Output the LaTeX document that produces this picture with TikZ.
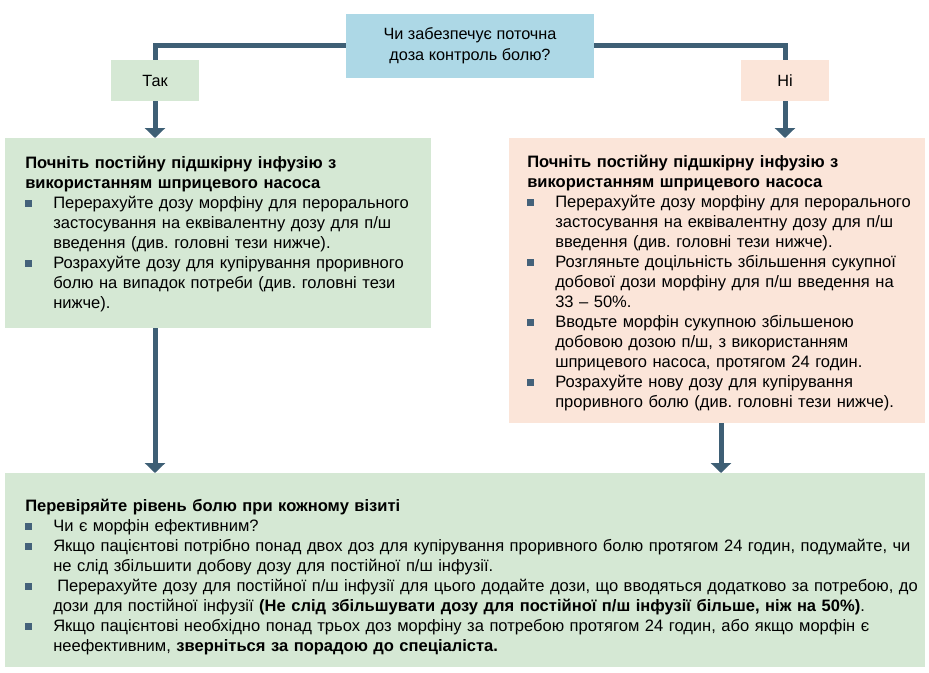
\documentclass[tikz,border=0pt]{standalone}
\usepackage{fontspec}
\setmainfont{Liberation Sans}
\usetikzlibrary{arrows.meta}
\frenchspacing

\definecolor{flowc}{RGB}{62,95,117}
\definecolor{qblue}{RGB}{173,216,230}
\definecolor{yesg}{RGB}{213,232,212}
\definecolor{nopeach}{RGB}{251,229,217}
\definecolor{bulc}{RGB}{68,98,122}

\pgfdeclarelayer{bg}
\pgfsetlayers{bg,main}

% square bullet with hanging indent
\newcommand\sqbul{\textcolor{bulc}{\rule[0.9pt]{5.2pt}{5.2pt}}}
\newcommand\bitem[1]{\par\noindent\hangindent=21pt\hangafter=1\makebox[21pt][l]{\sqbul}#1}

\tikzset{
  box/.style={rectangle, inner sep=0pt, outer sep=0pt},
  body/.style={anchor=base west, inner sep=0pt, align=left,
    font=\fontsize{12.4pt}{15pt}\selectfont},
  flow/.style={draw=flowc, line width=3.75pt,
    -{Triangle[width=15pt,length=7.5pt]}},
}

\begin{document}
\begin{tikzpicture}[x=0.75pt, y=-0.75pt]
\useasboundingbox (0,0) rectangle (929,672);

% boxes
\node[box, fill=qblue, minimum width=186pt, minimum height=48pt,
      align=center, font=\fontsize{12.2pt}{15.75pt}\selectfont] (q) at (470,45.5)
      {Чи забезпечує поточна\\доза контроль болю?};
\node[box, fill=yesg, minimum width=66pt, minimum height=30.75pt,
      font=\fontsize{12.2pt}{15pt}\selectfont] (tak) at (155,80.5) {Так};
\node[box, fill=nopeach, minimum width=66pt, minimum height=30.75pt,
      font=\fontsize{12.2pt}{15pt}\selectfont] (ni) at (785,80.5) {Ні};
\node[box, fill=yesg, minimum width=319.5pt, minimum height=142.5pt] (lbox) at (218,233) {};
\node[box, fill=nopeach, minimum width=312pt, minimum height=213.75pt] (rbox) at (717,280.5) {};
\node[box, fill=yesg, minimum width=690pt, minimum height=145.5pt] (bot) at (465,570) {};

% texts
\node[body, text width=310pt] (ltext) at (25,168) {%
\textbf{Почніть постійну підшкірну інфузію з\newline використанням шприцевого насоса}
\bitem{Перерахуйте дозу морфіну для перорального\newline застосування на еквівалентну дозу для п/ш\newline введення (див. головні тези нижче).}
\bitem{Розрахуйте дозу для купірування проривного\newline болю на випадок потреби (див. головні тези\newline нижче).}\par};

\node[body, text width=300pt] (rtext) at (527,167) {%
\textbf{Почніть постійну підшкірну інфузію з\newline використанням шприцевого насоса}
\bitem{Перерахуйте дозу морфіну для перорального\newline застосування на еквівалентну дозу для п/ш\newline введення (див. головні тези нижче).}
\bitem{Розгляньте доцільність збільшення сукупної\newline добової дози морфіну для п/ш введення на\newline 33 – 50\%.}
\bitem{Вводьте морфін сукупною збільшеною\newline добовою дозою п/ш, з використанням\newline шприцевого насоса, протягом 24 годин.}
\bitem{Розрахуйте нову дозу для купірування\newline проривного болю (див. головні тези нижче).}\par};

\node[body, text width=680pt] (btext) at (25,511) {%
\textbf{Перевіряйте рівень болю при кожному візиті}
\bitem{Чи є морфін ефективним?}
\bitem{Якщо пацієнтові потрібно понад двох доз для купірування проривного болю протягом 24 годин, подумайте, чи\newline не слід збільшити добову дозу для постійної п/ш інфузії.}
\bitem{\hspace{3pt}Перерахуйте дозу для постійної п/ш інфузії для цього додайте дози, що вводяться додатково за потребою, до\newline дози для постійної інфузії \textbf{(Не слід збільшувати дозу для постійної п/ш інфузії більше, ніж на 50\%)}.}
\bitem{Якщо пацієнтові необхідно понад трьох доз морфіну за потребою протягом 24 годин, або якщо морфін є\newline неефективним, \textbf{зверніться за порадою до спеціаліста.}}\par};

% connectors
\coordinate (rdrop) at ([xshift=3pt]rbox.south);
\begin{pgfonlayer}{bg}
\draw[flow] (q.west) -| (tak.north |- lbox.north);
\draw[flow] (q.east) -| (ni.north |- rbox.north);
\draw[flow] (tak.south |- lbox.south) -- (tak.south |- bot.north);
\draw[flow] (rdrop) -- (rdrop |- bot.north);
\end{pgfonlayer}
\end{tikzpicture}
\end{document}
